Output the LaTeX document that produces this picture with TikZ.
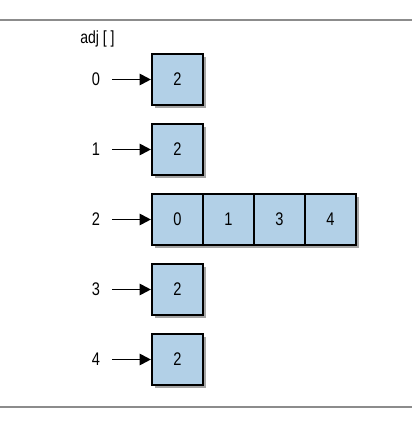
\documentclass[tikz,border=0pt]{standalone}
\usepackage{fontspec}
\setmainfont{Liberation Sans}[FakeStretch=0.80]
\usetikzlibrary{arrows.meta, positioning, shadows}
\definecolor{cellblue}{RGB}{178, 208, 231}
\definecolor{rulegray}{RGB}{140, 140, 140}
\tikzset{
  cellbox/.style={rectangle, draw=black, line width=1.5pt, fill=cellblue, minimum size=1.275cm, inner sep=0pt, font=\fontsize{13}{15}\selectfont,
    drop shadow={shadow xshift=1.8pt, shadow yshift=-1.8pt, opacity=0.35, fill=black}},
  idxlabel/.style={font=\fontsize{13}{15}\selectfont, inner sep=1pt},
  ptr/.style={-{Triangle[length=8pt, width=8pt]}, line width=1.4pt, shorten <=0.26cm}
}

\begin{document}
\begin{tikzpicture}
    \useasboundingbox (0,0) rectangle (10.3,-10.575);
    % rules above and below
    \draw[rulegray, line width=1.4pt] (0,-0.5) -- (10.3,-0.5);
    \draw[rulegray, line width=1.4pt] (0,-10.175) -- (10.3,-10.175);
    \node[anchor=west, font=\fontsize{12.5}{14}\selectfont, inner sep=0pt] (adj) at (2.0,-0.975) {adj [ ]};
    % one list per vertex
    \foreach \v/\y in {0/-1.9875, 1/-3.7375, 3/-7.2375, 4/-8.9875} {
        \node[cellbox] (c\v) at (4.4375,\y) {2};
        \node[idxlabel] (i\v) at (2.4,\y) {\v};
        \draw[ptr] (i\v) -- (c\v);
    }
    % vertex 2 has four neighbours
    \node[cellbox] (c2) at (4.4375,-5.4875) {0};
    \node[cellbox, right=-1.5pt of c2] (c2b) {1};
    \node[cellbox, right=-1.5pt of c2b] (c2c) {3};
    \node[cellbox, right=-1.5pt of c2c] (c2d) {4};
    \node[idxlabel] (i2) at (2.4,-5.4875) {2};
    \draw[ptr] (i2) -- (c2);
\end{tikzpicture}
\end{document}
